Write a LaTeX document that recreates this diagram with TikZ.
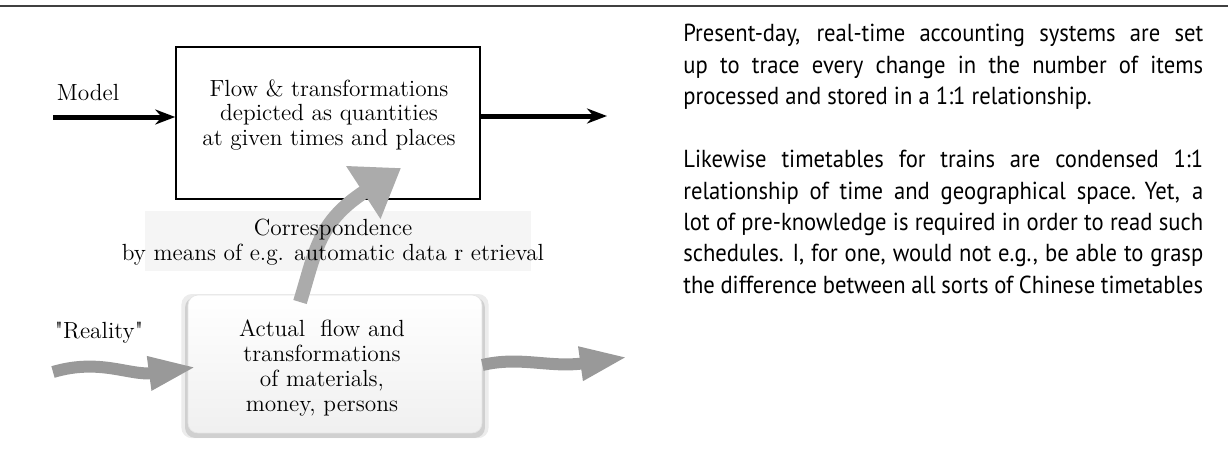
\documentclass[tikz,border=0pt]{standalone}
\usepackage{fontspec}
\newfontfamily\notefont{PT Sans}[FakeStretch=0.92]
\usetikzlibrary{arrows.meta, positioning, shadows, calc}
\definecolor{flowgray}{HTML}{999999}
\definecolor{corrgray}{HTML}{ABABAB}
\definecolor{stripgray}{HTML}{F5F5F5}
\newcommand{\boxfont}{\fontsize{13.3}{14.2}\selectfont}
\newcommand{\sidefont}{\notefont\fontsize{14}{17.9}\selectfont}
\newcommand{\jline}[1]{\hbox to \hsize{#1}}

\begin{document}
\begin{tikzpicture}[x=0.02cm, y=-0.02cm,
	modelbox/.style={draw, line width=0.9pt, minimum width=6.08cm, minimum height=3.04cm},
	realbox/.style={rounded corners=0.2cm, minimum width=5.88cm, minimum height=2.76cm,
		top color=white, bottom color=gray!12, draw=gray!20,
		general shadow={shadow scale=1.045, shadow yshift=-0.04cm, fill=gray!60, opacity=.25},
		drop shadow={shadow xshift=0pt, shadow yshift=-0.07cm, shadow scale=1.02, fill=gray!70, opacity=.4}},
	boxtext/.style={align=center, font=\boxfont},
	modelarrow/.style={line width=0.1cm, -{Stealth[length=0.4cm, width=0.3cm]}},
	flowarrow/.style={draw=flowgray, line width=0.24cm, -{Triangle[length=0.96cm, width=0.62cm]}},
	corrarrow/.style={draw=corrgray, line width=0.28cm, -{Triangle[length=0.9cm, width=1.2cm]}},
	label/.style={font=\boxfont}]
	\useasboundingbox (0,0) rectangle (1228,470);
	\draw[line width=0.04cm, black!75] (0,6) -- (1228,6);

	% model level
	\node[modelbox] (fm) at (328,123) {};
	\node[boxtext] (fmtext) at (329,115) {Flow \& transformations\\depicted as quantities\\at given times and places};
	\coordinate (min) at (53,117);
	\coordinate (mout) at (607,116);
	\node[label] (model) at (88,93) {Model};
	\draw[modelarrow] (min) -- (min -| fm.west);
	\draw[modelarrow] (mout -| fm.east) -- (mout);

	% correspondence
	\fill[stripgray] (145,211) rectangle (531,271);
	\node[realbox] (fr) at (335,364) {};
	\coordinate (cs) at (300,302);
	\coordinate (ce) at (401,168);
	\draw[corrarrow] (cs) .. controls (316,250) and (318,222) .. (ce);
	\node[boxtext] (corr) at (333,242) {Correspondence\\by means of e.g. automatic data r etrieval};

	% reality level
	\node[boxtext] (frtext) at (322,368) {Actual\ \ flow and\\transformations\\of materials,\\money, persons};
	\node[label] (real) at (99,333) {\textquotedbl Reality\textquotedbl};
	\coordinate (rin) at (53,372);
	\coordinate (rout) at (628,357);
	\draw[flowarrow] (rin) .. controls (100,358) and (130,376) .. ($(fr.west)+(9,3)$);
	\draw[flowarrow] ($(fr.east)+(0,1)$) .. controls (520,356) and (550,368) .. (rout);

	% side note
	\node[anchor=north west, text width=10.4cm, inner sep=0pt] (note) at (683,24) {%
		\sidefont\spaceskip=0.25em plus 1em minus 0.15em
		\jline{Present-day, real-time accounting systems are set}
		\jline{up to trace every change in the number of items}
		\jline{processed and stored in a 1:1 relationship.\hfil}
		\vskip 17.9pt
		\jline{Likewise timetables for trains are condensed 1:1}
		\jline{relationship of time and geographical space. Yet, a}
		\jline{lot of pre-knowledge is required in order to read such}
		\jline{schedules. I, for one, would not e.g., be able to grasp}
		\jline{the difference between all sorts of Chinese timetables}};
\end{tikzpicture}
\end{document}
